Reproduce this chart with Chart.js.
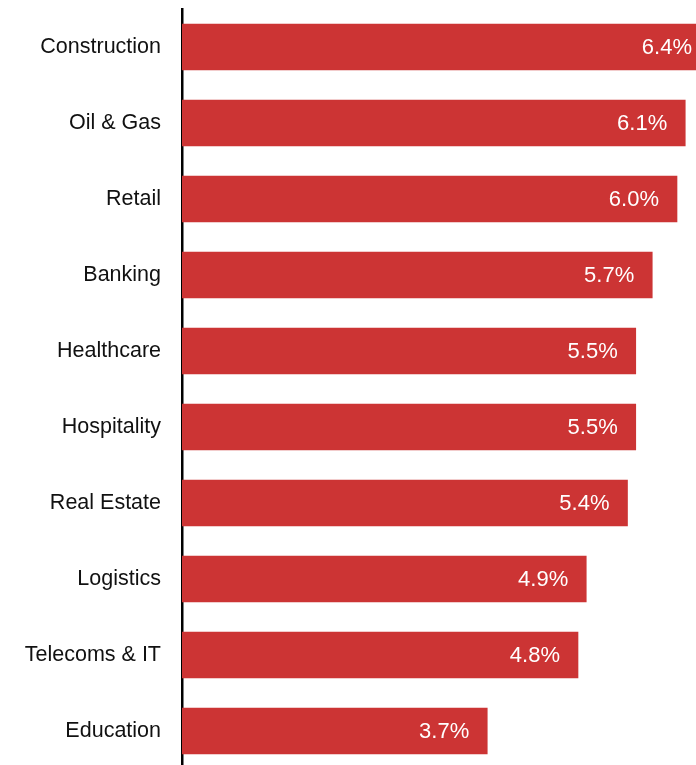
<!DOCTYPE html>
<html>
<head>
<meta charset="utf-8">
<script src="https://cdn.jsdelivr.net/npm/chart.js@4/dist/chart.umd.min.js"></script>
<style>
  html, body { margin: 0; padding: 0; background: #fff; overflow: hidden; width: 696px; height: 765px; }
  #wrap { width: 710px; height: 769px; }
</style>
</head>
<body>
<div id="wrap"><canvas id="chart" width="710" height="769"></canvas></div>
<script>
/* ── data ── */
const sectors = ['Construction', 'Oil & Gas', 'Retail', 'Banking', 'Healthcare',
                 'Hospitality', 'Real Estate', 'Logistics', 'Telecoms & IT', 'Education'];
const rates   = [6.4, 6.1, 6.0, 5.7, 5.5, 5.5, 5.4, 4.9, 4.8, 3.7];

const RED  = '#cc3434';
const FONT = "'Liberation Sans', Arial, Helvetica, sans-serif";

/* value labels inside the bar end */
const valueLabels = {
  id: 'valueLabels',
  afterDatasetsDraw(chart) {
    const { ctx } = chart;
    const meta = chart.getDatasetMeta(0);
    ctx.save();
    ctx.font = `22px ${FONT}`;
    ctx.fillStyle = '#ffffff';
    ctx.textAlign = 'right';
    ctx.textBaseline = 'middle';
    meta.data.forEach((bar, i) => {
      ctx.fillText(rates[i].toFixed(1) + '%', bar.x - 18, bar.y + 1);
    });
    ctx.restore();
  }
};

new Chart(document.getElementById('chart'), {
  type: 'bar',
  data: {
    labels: sectors,
    datasets: [{
      data: rates,
      backgroundColor: RED,
      barThickness: 46,
      borderWidth: 0,
    }],
  },
  options: {
    indexAxis: 'y',
    responsive: false,
    animation: false,
    layout: { autoPadding: false, padding: { top: 9, right: 0, bottom: 0, left: 0 } },
    plugins: { legend: { display: false }, tooltip: { enabled: false } },
    scales: {
      x: { display: false, min: 0, max: Math.max(...rates) },
      y: {
        grid: { display: false },
        border: { display: true, color: '#000', width: 2.5 },
        ticks: { color: '#111', padding: 13, font: { family: FONT, size: 21.5 } },
        // fixed gutter for the labels, no extra room above/below the first/last tick
        afterFit: s => { s.width = 182; s.paddingTop = 0; s.paddingBottom = 0; },
      },
    },
  },
  plugins: [valueLabels],
});
</script>
</body>
</html>
